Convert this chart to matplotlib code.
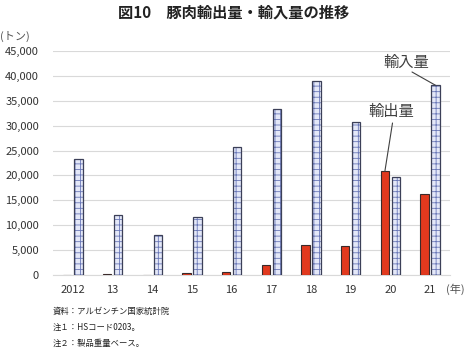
import matplotlib
matplotlib.use('Agg')
import matplotlib.pyplot as plt
import numpy as np

plt.rcParams['font.family'] = ['Noto Sans CJK JP', 'DejaVu Sans']
plt.rcParams['hatch.linewidth'] = 0.6

years = ['2012', '13', '14', '15', '16', '17', '18', '19', '20', '21']
exports = [0, 200, 30, 400, 700, 2000, 6100, 5800, 20800, 16300]
imports = [23300, 12000, 8100, 11700, 25700, 33400, 39000, 30800, 19700, 38100]

fig = plt.figure(figsize=(4.67, 3.48), dpi=100)
ax = fig.add_axes([0.1135, 0.2098, 0.85, 0.6436])

x = np.arange(len(years))
w = 0.21
off = 0.14

ax.bar(x - off, exports, width=w, color='#e2391e', edgecolor='#3a2a2a', linewidth=0.8, zorder=3)
# imports: blue grid hatch, then dark outline on top
ax.bar(x + off, imports, width=w, color='#e4e8f8', edgecolor='#6a78b8', linewidth=0,
       hatch='+++', zorder=3)
ax.bar(x + off, imports, width=w, fill=False, edgecolor='#3c4058', linewidth=0.9, zorder=4)

ax.set_xlim(-0.5, 9.5)
ax.set_ylim(0, 45000)
ax.set_yticks(range(0, 45001, 5000))
ax.set_yticklabels([f'{v:,}' for v in range(0, 45001, 5000)])
ax.set_xticks(x)
ax.set_xticklabels(years)
ax.tick_params(axis='both', length=0, labelsize=8, colors='#333333')
ax.tick_params(axis='y', pad=10)
ax.tick_params(axis='x', pad=7)
ax.grid(axis='y', color='#d9d9d9', linewidth=0.8, zorder=0)
for s in ['top', 'right', 'left']:
    ax.spines[s].set_visible(False)
ax.spines['bottom'].set_color('#d9d9d9')

fig.text(0.5, 0.965, '図10\u3000豚肉輸出量・輸入量の推移', ha='center', va='center',
         fontsize=11, fontweight='bold', color='#222222')
fig.text(0.0, 0.895, '(トン)', ha='left', va='center', fontsize=8, color='#555555')
fig.text(0.995, 0.17, '(年)', ha='right', va='center', fontsize=8, color='#555555')

# labels with leader lines
fig.text(406.7 / 467, 1 - 62 / 348, '輸入量', ha='center', va='center', fontsize=11, color='#404040')
ax.annotate('', xy=(9 + off, 38100), xytext=(412 / 467, 1 - 72 / 348),
            textcoords='figure fraction',
            arrowprops=dict(arrowstyle='-', color='#404040', lw=0.8, shrinkA=0, shrinkB=0))
fig.text(391.7 / 467, 1 - 111 / 348, '輸出量', ha='center', va='center', fontsize=11, color='#404040')
ax.annotate('', xy=(8 - off, 20800), xytext=(392.5 / 467, 1 - 123 / 348),
            textcoords='figure fraction',
            arrowprops=dict(arrowstyle='-', color='#404040', lw=0.8, shrinkA=0, shrinkB=0))

notes = ['資料：アルゼンチン国家統計院', '注１：HSコード0203。', '注２：製品重量ベース。']
for i, n in enumerate(notes):
    fig.text(53 / 467, 1 - (311 + 16 * i) / 348, n, ha='left', va='center', fontsize=6,
             color='#222222')

fig.savefig('out.png', dpi=100)
